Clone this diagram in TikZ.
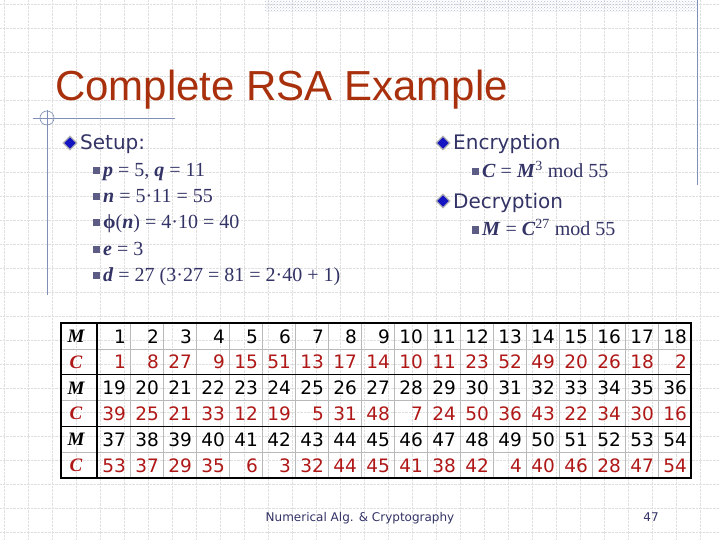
\documentclass[tikz,border=0pt]{standalone}
\usepackage{fontspec}
\setmainfont{Liberation Serif}
\setsansfont{DejaVu Sans}
\newfontfamily\titlefont{Liberation Sans}
\usetikzlibrary{shapes.geometric,patterns}
\definecolor{titlered}{HTML}{A8300C}
\definecolor{navy}{HTML}{333366}
\definecolor{deco}{HTML}{7F8FB8}
\definecolor{cred}{HTML}{B01818}
\newcommand{\bv}[1]{\textbf{\textit{#1}}}
\begin{document}
\begin{tikzpicture}[x=1pt,y=-1pt,
  dia/.style={diamond,draw=gray!60,fill=blue!60!navy,inner sep=0pt,minimum size=14pt,line width=1.2pt},
  sq/.style={rectangle,fill=navy!80,inner sep=0pt,minimum size=7pt},
  head/.style={anchor=base west,font=\sffamily\fontsize{20}{20}\selectfont,text=navy,inner sep=0pt},
  item/.style={anchor=base west,font=\fontsize{20}{20}\selectfont,text=navy,inner sep=0pt},
  cell/.style={anchor=base east,font=\sffamily\fontsize{18.5}{18.5}\selectfont,inner sep=0pt},
  lab/.style={anchor=base,font=\bfseries\itshape\fontsize{19}{19}\selectfont,inner sep=0pt}]
\useasboundingbox (0,0) rectangle (720,540);
\fill[white] (0,0) rectangle (720,540);
\foreach \i in {0,...,30} {\draw[gray!25,densely dotted,line width=0.4pt] (\i*24+4,0) -- (\i*24+4,540);}
\foreach \j in {0,...,22} {\draw[gray!25,densely dotted,line width=0.4pt] (0,\j*24+4) -- (720,\j*24+4);}
% decorations
\fill[pattern=crosshatch dots,pattern color=deco!60] (265,0) rectangle (697,12);
\draw[deco,line width=0.8pt] (697,0) -- (697,185);
\draw[deco,line width=0.8pt] (33,118) -- (175,118);
\draw[deco,line width=0.8pt] (47,110) -- (47,295);
\draw[deco,line width=0.6pt] (47,118) circle (7);
% title
\node[anchor=base west,inner sep=0pt,text=titlered,font=\titlefont\fontsize{42}{42}\selectfont] (title) at (55,101) {Complete RSA Example};
% left column
\node[dia] (d1) at (70,143) {};
\node[head] (setup) at (80,150) {Setup:};
\node[sq] (b1) at (96,171) {};
\node[item] (t1) at (103,177) {\bv{p} = 5, \bv{q} = 11};
\node[sq] (b2) at (96,197) {};
\node[item] (t2) at (103,203) {\bv{n} = 5·11 = 55};
\node[sq] (b3) at (96,223) {};
\node[item] (t3) at (103,229) {\textbf{ϕ}(\bv{n}) = 4·10 = 40};
\node[sq] (b4) at (96,249) {};
\node[item] (t4) at (103,255) {\bv{e} = 3};
\node[sq] (b5) at (96,275) {};
\node[item] (t5) at (103,281) {\bv{d} = 27 (3·27 = 81 = 2·40 + 1)};
% right column
\node[dia] (d2) at (443,143) {};
\node[head] (enc) at (453,150) {Encryption};
\node[sq] (b6) at (475,172) {};
\node[item] (t6) at (482,178) {\bv{C} = \bv{M}\textsuperscript{3} mod 55};
\node[dia] (d3) at (443,201) {};
\node[head] (dec) at (453,208) {Decryption};
\node[sq] (b7) at (475,230) {};
\node[item] (t7) at (482,236) {\bv{M} = \bv{C}\textsuperscript{27} mod 55};
% table
\def\rh{25.83}
\foreach \r/\vals/\col in {
  0/{1,2,3,4,5,6,7,8,9,10,11,12,13,14,15,16,17,18}/black,
  1/{1,8,27,9,15,51,13,17,14,10,11,23,52,49,20,26,18,2}/cred,
  2/{19,20,21,22,23,24,25,26,27,28,29,30,31,32,33,34,35,36}/black,
  3/{39,25,21,33,12,19,5,31,48,7,24,50,36,43,22,34,30,16}/cred,
  4/{37,38,39,40,41,42,43,44,45,46,47,48,49,50,51,52,53,54}/black,
  5/{53,37,29,35,6,3,32,44,45,41,38,42,4,40,46,28,47,54}/cred} {
  \foreach \v [count=\c] in \vals {
    \node[cell,text=\col] (c\r-\c) at (97+33*\c-4,323+\r*\rh+20) {\v};
  }
}
\foreach \r/\l/\col in {0/M/black,1/C/cred,2/M/black,3/C/cred,4/M/black,5/C/cred} {
  \node[lab,text=\col] (l\r) at (76,323+\r*\rh+19.5) {\l};
}
\foreach \c in {1,...,17} {\draw[gray!55,line width=0.6pt] (97+33*\c,323) -- (97+33*\c,478);}
\foreach \r in {1,3,5} {\draw[gray!55,line width=0.6pt] (61,323+\r*\rh) -- (691,323+\r*\rh);}
\foreach \r in {2,4} {\draw[black,line width=1.6pt] (61,323+\r*\rh) -- (691,323+\r*\rh);}
\draw[black,line width=1.6pt] (97,323) -- (97,478);
\draw[black,line width=1.6pt] (61,323) rectangle (691,478);
% footer
\node[anchor=base,inner sep=0pt,text=navy,font=\sffamily\fontsize{12}{12}\selectfont] (foot) at (360,521) {Numerical Alg. \& Cryptography};
\node[anchor=base,inner sep=0pt,text=navy,font=\sffamily\fontsize{12}{12}\selectfont] (page) at (651,521) {47};
\end{tikzpicture}
\end{document}
